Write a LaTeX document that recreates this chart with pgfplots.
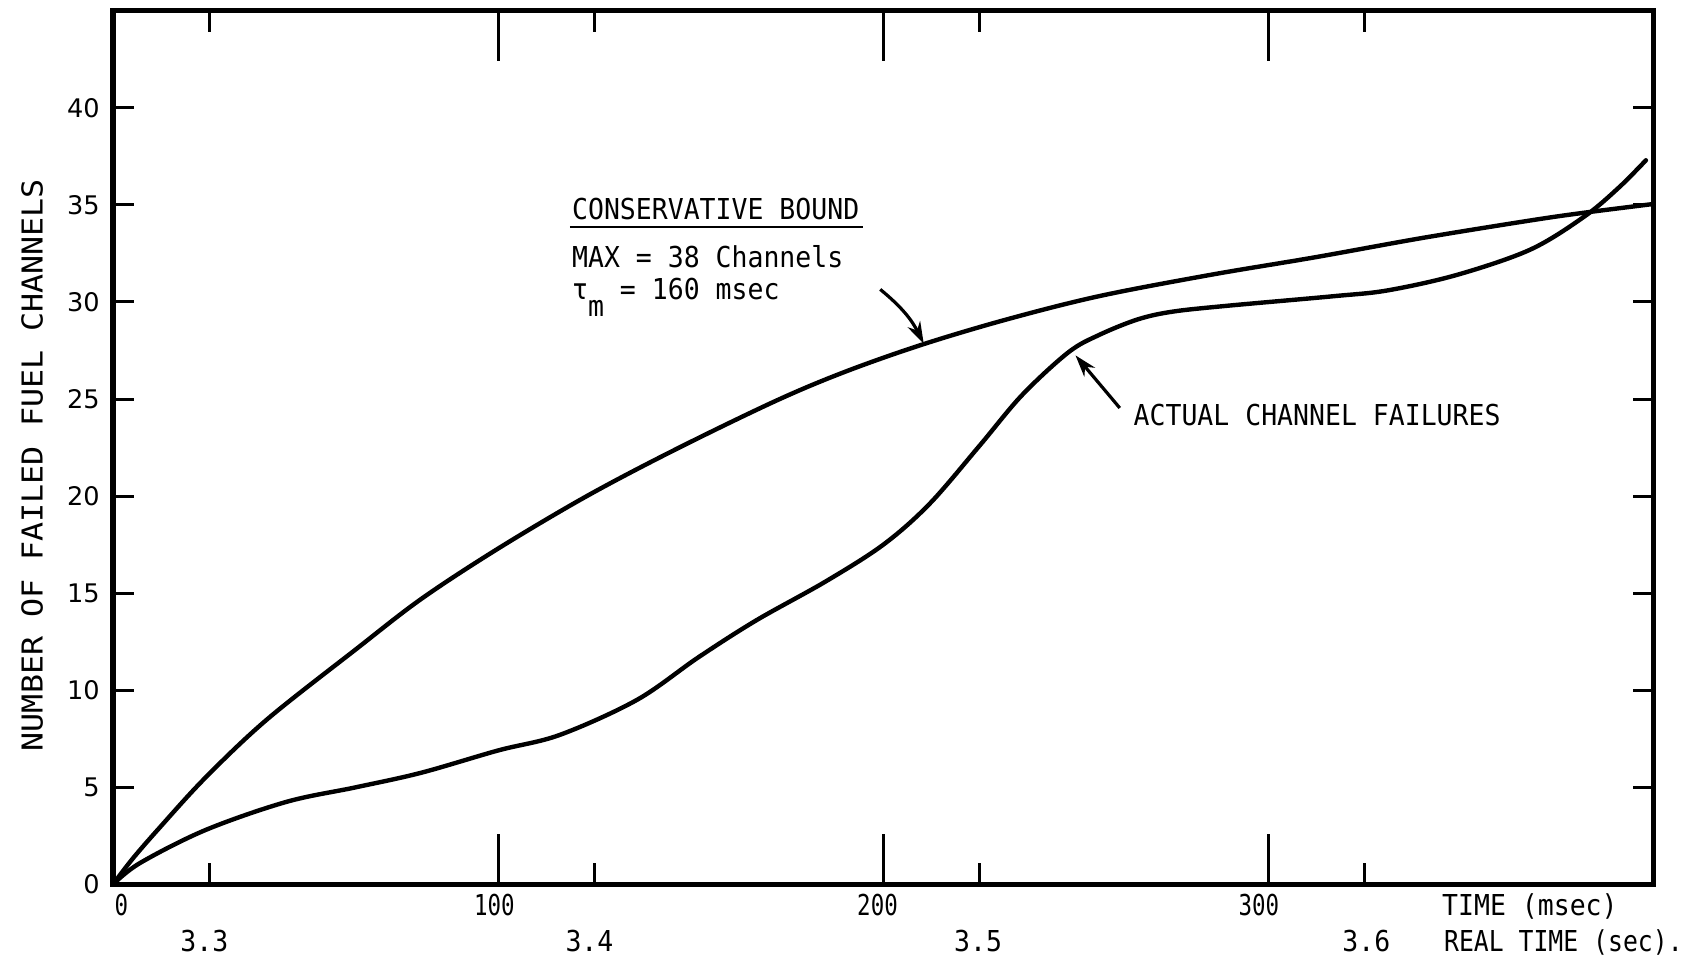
\documentclass[border=0pt]{standalone}
\usepackage{fontspec}
\setmainfont{DejaVu Sans Mono}[FakeStretch=0.92]
\newfontfamily\numfont{DejaVu Sans}
\newfontfamily\ylabfont{DejaVu Sans Mono}[FakeStretch=1.1]
\newfontfamily\xnumfont{DejaVu Sans Mono}[FakeStretch=0.78]
\newfontfamily\narrowfont{DejaVu Sans Mono}[FakeStretch=0.86]
\usepackage{pgfplots}
\pgfplotsset{compat=1.18}
\usetikzlibrary{arrows.meta}

\begin{document}
\begin{tikzpicture}
\begin{axis}[
  name=ax,
  scale only axis,
  width=770.3pt, height=436.8pt,
  xmin=0, xmax=400, ymin=0, ymax=45,
  axis line style={line width=2.6pt},
  clip=false,
  xtick={25,125,225,325},
  xticklabels={},
  extra x ticks={100,200,300},
  extra x tick labels={},
  extra x tick style={major tick length=25pt},
  ytick={0,5,...,40},
  major tick length=10.5pt,
  tick style={line width=1.5pt, black},
  tick align=inside,
  /pgf/number format/assume math mode=true,
  yticklabel style={font=\numfont\fontsize{12.8}{14}\selectfont, inner sep=0pt, xshift=-6.5pt},
  every axis plot/.append style={line width=2.2pt, black, line cap=round, line join=round},
  font=\fontsize{14.4}{17}\selectfont,
]

% conservative bound: MAX = 38 channels, tau_m = 160 msec
\addplot[smooth, tension=0.55] coordinates {
  (0,0) (5,1.3) (12,2.9) (24,5.5) (40,8.5) (63,12.1) (80,14.7) (100,17.3)
  (123,20.0) (146,22.4) (172,24.9) (190,26.4) (210,27.8) (232,29.1)
  (256,30.3) (285,31.4) (312,32.3) (340,33.3) (368,34.2) (382,34.6) (400,35.05)
};

% actual channel failures
\addplot[smooth, tension=0.55] coordinates {
  (0,0) (7,1.1) (24,2.8) (45,4.25) (63,5.0) (80,5.75) (100,6.9) (116,7.7)
  (136,9.5) (152,11.7) (167,13.6) (185,15.6) (200,17.5) (212,19.6)
  (225,22.6) (236,25.2) (248,27.4) (256,28.3) (266,29.1) (275,29.5)
  (289,29.8) (317,30.3) (331,30.6) (349,31.4) (368,32.7) (382,34.4)
  (391,35.9) (398,37.3)
};

% time axis labels (two rows)
\begin{scope}[font=\xnumfont\fontsize{14.4}{17}\selectfont]
  \node[anchor=base, yshift=-15.6pt] at (axis cs:2.2,0) {0};
  \node[anchor=base, yshift=-15.6pt] at (axis cs:99,0) {100};
  \node[anchor=base, yshift=-15.6pt] at (axis cs:198.5,0) {200};
  \node[anchor=base, yshift=-15.6pt] at (axis cs:297.5,0) {300};
\end{scope}
\node[anchor=base, yshift=-33.4pt] at (axis cs:23.7,0) {3.3};
\node[anchor=base, yshift=-33.4pt] at (axis cs:123.7,0) {3.4};
\node[anchor=base, yshift=-33.4pt] at (axis cs:224.6,0) {3.5};
\node[anchor=base, yshift=-33.4pt] at (axis cs:325.4,0) {3.6};
\node[anchor=base west, inner sep=0pt, yshift=-15.6pt] at (axis cs:345,0) {TIME (msec)};
\node[anchor=base west, inner sep=0pt, yshift=-33.4pt, font=\narrowfont\fontsize{14.4}{17}\selectfont]
  at (axis cs:345.5,0) {REAL TIME (sec).};

% vertical axis title
\node[rotate=90, font=\ylabfont\fontsize{14.4}{17}\selectfont]
  at ([xshift=-40.4pt]axis cs:0,21.6) {NUMBER OF FAILED FUEL CHANNELS};

% annotation for the bound
\node[anchor=base west, inner sep=0pt] at (axis cs:119.1,34.25) {CONSERVATIVE BOUND};
\draw[line width=1.2pt] (axis cs:118.6,33.87) -- (axis cs:194.6,33.87);
\node[anchor=base west, inner sep=0pt] at (axis cs:119.1,31.8) {MAX = 38 Channels};
\node[anchor=base west, inner sep=0pt] at (axis cs:119.1,30.12) {τ\raisebox{-8.3pt}{m} = 160 msec};
\draw[line width=1.6pt, -{Stealth[length=11pt,width=7pt]}]
  (axis cs:199.2,30.65) to[bend left=12] (axis cs:210.5,27.85);

% annotation for the measured failures
\node[anchor=base west, inner sep=0pt] at (axis cs:264.9,23.63) {ACTUAL CHANNEL FAILURES};
\draw[line width=1.6pt, -{Stealth[length=11pt,width=7pt]}]
  (axis cs:261.4,24.54) -- (axis cs:249.9,27.25);
\end{axis}
\pgfresetboundingbox
\path[use as bounding box] ([shift={(-56.5pt,-36.3pt)}]ax.south west)
  rectangle ([shift={(16.7pt,5.4pt)}]ax.north east);
\end{tikzpicture}
\end{document}
